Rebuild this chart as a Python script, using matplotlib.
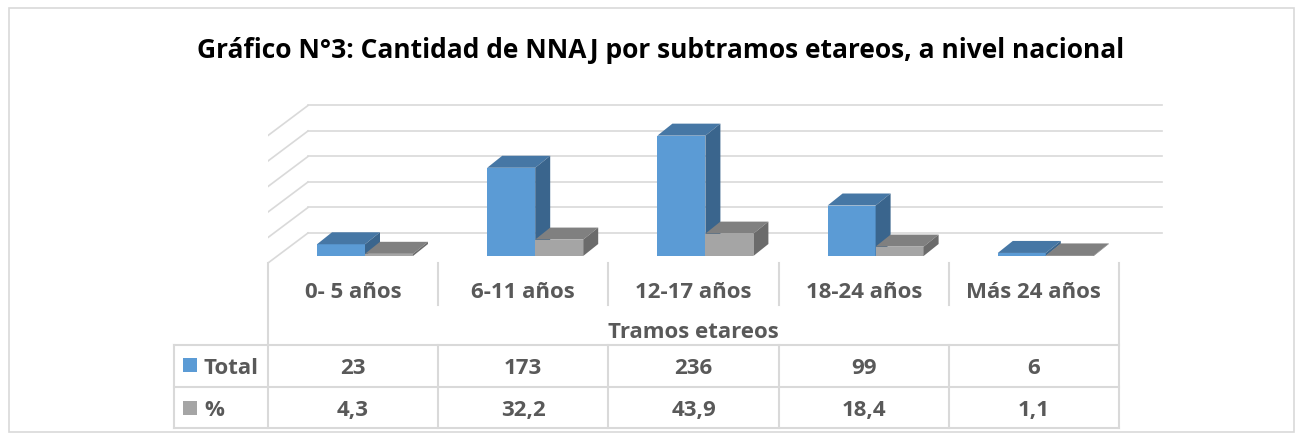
import matplotlib.pyplot as plt
from matplotlib.patches import Polygon, Rectangle

categories = ["0- 5 años", "6-11 años", "12-17 años", "18-24 años", "Más 24 años"]
total = [23, 173, 236, 99, 6]
percent = [4.3, 32.2, 43.9, 18.4, 1.1]
total_labels = ["23", "173", "236", "99", "6"]
percent_labels = ["4,3", "32,2", "43,9", "18,4", "1,1"]
grid_values = [0, 50, 100, 150, 200, 250]

FONT = ["Open Sans", "DejaVu Sans"]
TXT = "#595959"
GRID = "#d9d9d9"

fig = plt.figure(figsize=(13.03, 4.40), dpi=100)

# background layer in pixel coordinates (frame, table, texts)
bg = fig.add_axes([0, 0, 1, 1])
bg.set_xlim(0, 1303)
bg.set_ylim(440, 0)
bg.axis("off")
bg.add_patch(Rectangle((9, 8), 1285, 424, fill=False, ec=GRID, lw=1.2))

bg.text(661, 58, "Gráfico N°3: Cantidad de NNAJ por subtramos etareos, a nivel nacional",
        ha="center", va="baseline", fontsize=19, fontweight="bold", color="black", family=FONT)

# chart axes: x in category units, y in value units
px_cat = 170.2
px_val = 0.51
x0_px, x1_px = 268, 1190
ytop_px, ybot_px, base_px = 90, 270, 256
ax = fig.add_axes([x0_px / 1303, (440 - ybot_px) / 440, (x1_px - x0_px) / 1303, (ybot_px - ytop_px) / 440])
ax.set_xlim(0, (x1_px - x0_px) / px_cat)
ax.set_ylim(-(ybot_px - base_px) / px_val, (base_px - ytop_px) / px_val)
ax.axis("off")

# walls: side-wall diagonals and back-wall gridlines
floor_front = -7 / px_val
wall_dx, wall_dy = 40 / px_cat, 30 / px_val
grid_end = (1162 - x0_px) / px_cat
for g in grid_values:
    ax.plot([0, wall_dx], [floor_front + g, floor_front + wall_dy + g], color=GRID, lw=1.2, zorder=1)
    ax.plot([wall_dx, grid_end], [floor_front + wall_dy + g] * 2, color=GRID, lw=1.2, zorder=1)

# pseudo-3D bars
bar_w = 48 / px_cat
bar_off = 49 / px_cat
dx, dy = 15 / px_cat, 12 / px_val
series = [
    (total, "#5b9bd5", "#4677a5", "#3a658d"),
    (percent, "#a5a5a5", "#808080", "#6b6b6b"),
]
for i in range(len(categories)):
    for s, (vals, front, top, side) in enumerate(series):
        x = i + bar_off + s * bar_w
        h = vals[i]
        ax.add_patch(Rectangle((x, 0), bar_w, h, fc=front, ec="none", zorder=3))
        ax.add_patch(Polygon([(x, h), (x + bar_w, h), (x + bar_w + dx, h + dy), (x + dx, h + dy)],
                             fc=top, ec="none", zorder=3))
        ax.add_patch(Polygon([(x + bar_w, 0), (x + bar_w + dx, dy), (x + bar_w + dx, h + dy), (x + bar_w, h)],
                             fc=side, ec="none", zorder=3))

# data table
cols = [268 + px_cat * k for k in range(len(categories) + 1)]
left, right = 174, cols[-1]
rows = [345, 387, 428]
for y in rows:
    bg.plot([left, right], [y, y], color=GRID, lw=1.5)
bg.plot([left, left], [rows[0], rows[-1]], color=GRID, lw=1.5)
bg.plot([cols[0], cols[0]], [263, rows[-1]], color=GRID, lw=1.5)
bg.plot([cols[-1], cols[-1]], [263, rows[-1]], color=GRID, lw=1.5)
for c in cols[1:-1]:
    bg.plot([c, c], [263, 305], color=GRID, lw=1.5)
    bg.plot([c, c], [rows[0], rows[-1]], color=GRID, lw=1.5)

lab_kw = dict(ha="center", va="baseline", fontsize=16, fontweight="bold", color=TXT, family=FONT)
for k, cat in enumerate(categories):
    cx = (cols[k] + cols[k + 1]) / 2
    bg.text(cx, 298, cat, **lab_kw)
    bg.text(cx, 374, total_labels[k], **lab_kw)
    bg.text(cx, 416, percent_labels[k], **lab_kw)
bg.text((cols[0] + cols[-1]) / 2, 338, "Tramos etareos", **lab_kw)

bg.add_patch(Rectangle((183, 358), 14, 14, fc="#5b9bd5", ec="none"))
bg.add_patch(Rectangle((183, 401), 14, 14, fc="#a5a5a5", ec="none"))
bg.text(204, 374, "Total", ha="left", va="baseline", fontsize=16, fontweight="bold", color=TXT, family=FONT)
bg.text(204, 416, "%", ha="left", va="baseline", fontsize=16, fontweight="bold", color=TXT, family=FONT)

fig.savefig("out.png", dpi=100)
